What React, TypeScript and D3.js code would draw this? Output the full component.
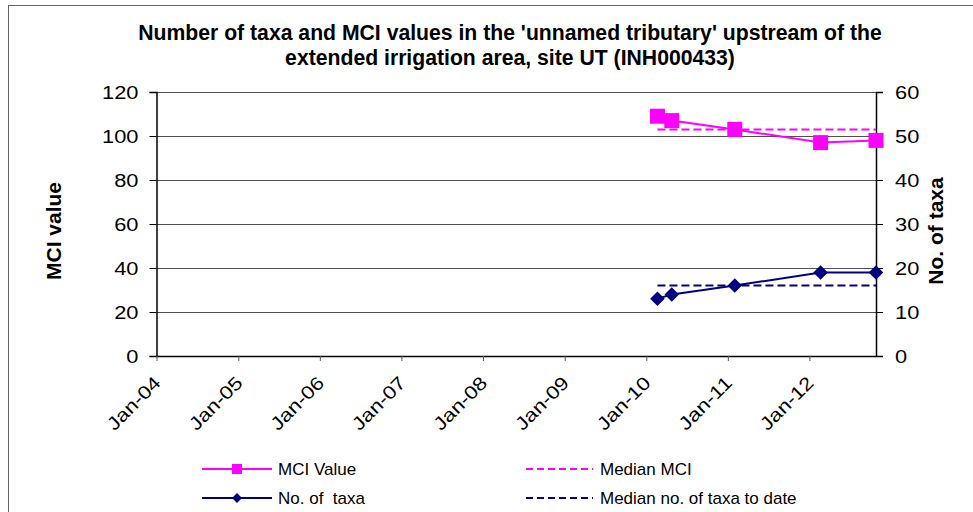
import React, { useRef, useEffect } from "react";
import * as d3 from "d3";

// sampling dates and values
const sampleDates = ["2010-02-20", "2010-04-25", "2011-02-01", "2012-02-20", "2012-10-25"];
const mciValues = [109, 107, 103, 97, 98];
const taxaValues = [13, 14, 16, 19, 19];
const medianMci = 103;
const medianTaxa = 16;
const yearTicks = ["Jan-04", "Jan-05", "Jan-06", "Jan-07", "Jan-08", "Jan-09", "Jan-10", "Jan-11", "Jan-12"];
const leftTicks = [0, 20, 40, 60, 80, 100, 120];
const rightTicks = [0, 10, 20, 30, 40, 50, 60];

const W = 973;
const H = 512;
const FONT = "Arial, 'Liberation Sans', sans-serif";
const MAGENTA = "#ff00ff";
const NAVY = "#000080";

function App() {
  const svgRef = useRef(null);

  useEffect(() => {
    const svg = d3.select(svgRef.current);
    svg.selectAll("*").remove();

    const parse = d3.timeParse("%Y-%m-%d");
    const dates = sampleDates.map((d) => parse(d));
    const tickDates = yearTicks.map((t) => d3.timeParse("%b-%y")(t));

    const left = 156.5, right = 876, top = 92, bottom = 356;

    const x = d3.scaleTime()
      .domain([new Date(2004, 0, 1), new Date(2012, 9, 25)])
      .range([left, right]);
    const yL = d3.scaleLinear().domain([0, 120]).range([bottom, top]);
    const yR = d3.scaleLinear().domain([0, 60]).range([bottom, top]);

    // outer frame (runs off the right and bottom edges)
    svg.append("rect")
      .attr("x", 8.5).attr("y", 5.5)
      .attr("width", W + 10).attr("height", H + 10)
      .attr("fill", "white").attr("stroke", "#666").attr("stroke-width", 1);

    // title
    const title = svg.append("text")
      .attr("text-anchor", "middle")
      .attr("font-family", FONT).attr("font-size", 21.2).attr("font-weight", "bold");
    title.append("tspan").attr("x", 510).attr("y", 40)
      .text("Number of taxa and MCI values in the 'unnamed tributary' upstream of the");
    title.append("tspan").attr("x", 510).attr("y", 65)
      .text("extended irrigation area, site UT (INH000433)");

    // gridlines
    svg.append("g")
      .selectAll("line")
      .data(leftTicks.slice(1))
      .join("line")
      .attr("x1", left).attr("x2", right)
      .attr("y1", (d) => Math.round(yL(d)) + 0.5).attr("y2", (d) => Math.round(yL(d)) + 0.5)
      .attr("stroke", "#222").attr("stroke-width", 0.8);

    // left axis
    const gL = svg.append("g").attr("transform", `translate(${left},0)`)
      .call(d3.axisLeft(yL).tickValues(leftTicks).tickSize(7));
    gL.select(".domain").attr("stroke", "#000").attr("stroke-width", 1.5);
    gL.selectAll("text")
      .attr("font-family", FONT).attr("font-size", 19).attr("fill", "#000")
      .attr("x", 0).attr("text-anchor", "end")
      .attr("transform", "translate(-18,0) scale(1.15,1)");

    // right axis
    const gR = svg.append("g").attr("transform", `translate(${right},0)`)
      .call(d3.axisRight(yR).tickValues(rightTicks).tickSize(7));
    gR.select(".domain").attr("stroke", "#000").attr("stroke-width", 1.5);
    gR.selectAll("text")
      .attr("font-family", FONT).attr("font-size", 19).attr("fill", "#000")
      .attr("x", 0).attr("text-anchor", "start")
      .attr("transform", "translate(19,0) scale(1.15,1)");

    // bottom axis
    const gB = svg.append("g").attr("transform", `translate(0,${bottom})`)
      .call(d3.axisBottom(x).tickValues(tickDates).tickFormat(d3.timeFormat("%b-%y")).tickSize(5).tickSizeOuter(0));
    gB.select(".domain").attr("stroke", "#000").attr("stroke-width", 1.5);
    gB.selectAll(".tick line").attr("stroke", "#555");
    gB.selectAll("text")
      .attr("font-family", FONT).attr("font-size", 18.5).attr("fill", "#000")
      .attr("text-anchor", "end")
      .attr("x", 0).attr("y", 0).attr("dy", 0)
      .attr("textLength", 67).attr("lengthAdjust", "spacingAndGlyphs")
      .attr("transform", "translate(5,28) rotate(-45)");

    // axis titles
    svg.append("text")
      .attr("transform", `translate(60.5,${(top + bottom) / 2 + 7}) rotate(-90)`)
      .attr("text-anchor", "middle")
      .attr("font-family", FONT).attr("font-size", 21).attr("font-weight", "bold")
      .text("MCI value");
    svg.append("text")
      .attr("transform", `translate(942.5,${(top + bottom) / 2 + 7}) rotate(-90)`)
      .attr("text-anchor", "middle")
      .attr("font-family", FONT).attr("font-size", 21).attr("font-weight", "bold")
      .text("No. of taxa");

    // median lines
    const medStart = x(dates[0]);
    svg.append("line")
      .attr("x1", medStart).attr("x2", right)
      .attr("y1", yL(medianMci)).attr("y2", yL(medianMci))
      .attr("stroke", MAGENTA).attr("stroke-width", 2).attr("stroke-dasharray", "8,4");
    svg.append("line")
      .attr("x1", medStart).attr("x2", right)
      .attr("y1", yR(medianTaxa)).attr("y2", yR(medianTaxa))
      .attr("stroke", NAVY).attr("stroke-width", 2).attr("stroke-dasharray", "8,4");

    // MCI series
    const mciLine = d3.line().x((d, i) => x(dates[i])).y((d) => yL(d));
    svg.append("path").datum(mciValues)
      .attr("d", mciLine).attr("fill", "none").attr("stroke", MAGENTA).attr("stroke-width", 2);
    svg.append("g").selectAll("rect").data(mciValues).join("rect")
      .attr("x", (d, i) => x(dates[i]) - 7.5).attr("y", (d) => yL(d) - 7.5)
      .attr("width", 15).attr("height", 15).attr("fill", MAGENTA);

    // taxa series
    const taxaLine = d3.line().x((d, i) => x(dates[i])).y((d) => yR(d));
    svg.append("path").datum(taxaValues)
      .attr("d", taxaLine).attr("fill", "none").attr("stroke", NAVY).attr("stroke-width", 2);
    const diamond = d3.symbol().type(d3.symbolDiamond2).size(134);
    svg.append("g").selectAll("path").data(taxaValues).join("path")
      .attr("d", diamond)
      .attr("transform", (d, i) => `translate(${x(dates[i])},${yR(d)})`)
      .attr("fill", NAVY);

    // legend
    const legend = [
      { label: "MCI Value", color: MAGENTA, dash: null, marker: "square", lx: 202, ly: 469 },
      { label: "Median MCI", color: MAGENTA, dash: "7,4", marker: null, lx: 526, ly: 469 },
      { label: "No. of  taxa", color: NAVY, dash: null, marker: "diamond", lx: 202, ly: 498 },
      { label: "Median no. of taxa to date", color: NAVY, dash: "7,4", marker: null, lx: 526, ly: 498 },
    ];
    const lg = svg.append("g").selectAll("g").data(legend).join("g")
      .attr("transform", (d) => `translate(${d.lx},${d.ly})`);
    lg.append("line").attr("x1", 0).attr("x2", (d) => (d.dash ? 67 : 70))
      .attr("stroke", (d) => d.color).attr("stroke-width", 2)
      .attr("stroke-dasharray", (d) => d.dash);
    lg.filter((d) => d.marker === "square").append("rect")
      .attr("x", 30).attr("y", -5).attr("width", 10).attr("height", 10).attr("fill", (d) => d.color);
    lg.filter((d) => d.marker === "diamond").append("path")
      .attr("d", d3.symbol().type(d3.symbolDiamond2).size(64))
      .attr("transform", "translate(35,0)").attr("fill", (d) => d.color);
    lg.append("text")
      .attr("x", (d) => (d.dash ? 74 : 76))
      .attr("dy", "0.36em")
      .attr("font-family", FONT).attr("font-size", 17).attr("fill", "#000")
      .attr("xml:space", "preserve")
      .style("white-space", "pre")
      .text((d) => d.label);
  }, []);

  return (
    <svg ref={svgRef} width={W} height={H} style={{ position: "absolute", left: 0, top: 0 }} />
  );
}

export default App;
